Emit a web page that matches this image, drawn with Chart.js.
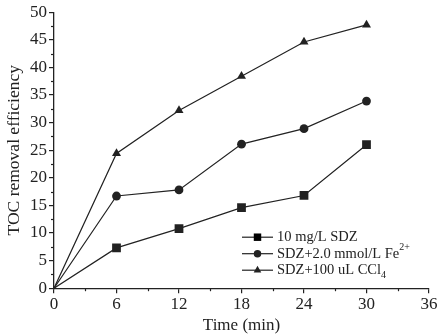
<!DOCTYPE html>
<html>
<head>
<meta charset="utf-8">
<script src="https://cdn.jsdelivr.net/npm/chart.js@4.4.0/dist/chart.umd.min.js"></script>
<style>
  html, body { margin: 0; padding: 0; background: #fff; }
  #wrap { width: 442px; height: 336px; }
</style>
</head>
<body>
<div id="wrap"><canvas id="toc"></canvas></div>
<script>
// -------- Data --------
const timeMin = [0, 6, 12, 18, 24, 30];
const sdzOnly = [0, 7.3, 10.8, 14.6, 16.8, 26.0];
const sdzFe = [0, 16.7, 17.8, 26.1, 28.9, 33.9];
const sdzCcl4 = [0, 24.4, 32.2, 38.4, 44.6, 47.7];

const INK = '#222';
const serif = '"Liberation Serif", "Times New Roman", serif';
const markerSize = { rect: 6.2, circle: 4.4, triangle: 5.2 };

function series(label, values, style, legendParts) {
  return {
    label: label,
    legendParts: legendParts,
    data: timeMin.map((t, i) => ({ x: t, y: values[i] })),
    borderColor: INK,
    backgroundColor: INK,
    borderWidth: 1.2,
    pointStyle: style,
    pointRadius: values.map((v, i) => i === 0 ? 1.5 : markerSize[style]),
    pointBorderWidth: 0,
    tension: 0
  };
}

// minor ticks + legend with super/subscripts
const extrasPlugin = {
  id: 'extras',
  afterDraw(chart) {
    const c = chart.ctx;
    const xs = chart.scales.x, ys = chart.scales.y;
    c.save();
    c.strokeStyle = INK;
    c.lineWidth = 1.2;
    // minor ticks
    for (let v = 3; v < 36; v += 6) {
      const px = Math.round(xs.getPixelForValue(v)) + 0.5;
      c.beginPath(); c.moveTo(px, ys.bottom); c.lineTo(px, ys.bottom + 3); c.stroke();
    }
    for (let v = 2.5; v < 50; v += 5) {
      const py = Math.round(ys.getPixelForValue(v)) + 0.5;
      c.beginPath(); c.moveTo(xs.left, py); c.lineTo(xs.left - 3, py); c.stroke();
    }
    // legend
    const ca = chart.chartArea;
    const x0 = ca.left + 188, y0 = ca.top + 225, gap = 16.5;
    chart.data.datasets.forEach((ds, i) => {
      const y = y0 + i * gap;
      c.strokeStyle = INK; c.lineWidth = 1.2;
      c.beginPath(); c.moveTo(x0, y); c.lineTo(x0 + 31, y); c.stroke();
      Chart.helpers.drawPoint(c, { pointStyle: ds.pointStyle, radius: markerSize[ds.pointStyle] * 0.85, rotation: 0, borderWidth: 0 }, x0 + 15.5, y);
      c.fillStyle = INK;
      c.textBaseline = 'middle';
      let tx = x0 + 35;
      ds.legendParts.forEach(p => {
        const size = p.mode ? 10 : 14.5;
        c.font = size + 'px ' + serif;
        const dy = p.mode === 'sup' ? -6 : (p.mode === 'sub' ? 5 : 0);
        c.fillText(p.t, tx, y + dy);
        tx += c.measureText(p.t).width;
      });
    });
    c.restore();
  }
};

const ctx = document.getElementById('toc').getContext('2d');
const chart = new Chart(ctx, {
  type: 'line',
  data: {
    datasets: [
      series('10 mg/L SDZ', sdzOnly, 'rect', [{ t: '10 mg/L SDZ' }]),
      series('SDZ+2.0 mmol/L Fe2+', sdzFe, 'circle', [{ t: 'SDZ+2.0 mmol/L Fe' }, { t: '2+', mode: 'sup' }]),
      series('SDZ+100 uL CCl4', sdzCcl4, 'triangle', [{ t: 'SDZ+100 uL CCl' }, { t: '4', mode: 'sub' }])
    ]
  },
  options: {
    responsive: true,
    maintainAspectRatio: false,
    animation: false,
    layout: { padding: { left: 4, right: 13, top: 4, bottom: 0 } },
    plugins: {
      legend: { display: false },
      tooltip: { enabled: false }
    },
    scales: {
      x: {
        type: 'linear',
        min: 0, max: 36,
        ticks: { stepSize: 6, color: INK, font: { family: serif, size: 17 }, padding: 1 },
        grid: { drawOnChartArea: false, drawTicks: true, tickLength: 5, color: INK, lineWidth: 1.2 },
        border: { display: true, color: INK, width: 1.3 },
        title: { display: true, text: 'Time (min)', color: INK, font: { family: serif, size: 17 }, padding: { top: 0, bottom: 0 } }
      },
      y: {
        min: 0, max: 50,
        ticks: { stepSize: 5, color: INK, font: { family: serif, size: 17 }, padding: 2 },
        grid: { drawOnChartArea: false, drawTicks: true, tickLength: 5, color: INK, lineWidth: 1.2 },
        border: { display: true, color: INK, width: 1.3 },
        title: { display: true, text: 'TOC removal efficiency', color: INK, font: { family: serif, size: 17.5 }, padding: { top: 0, bottom: 3 } }
      }
    }
  },
  plugins: [extrasPlugin]
});
</script>
</body>
</html>
